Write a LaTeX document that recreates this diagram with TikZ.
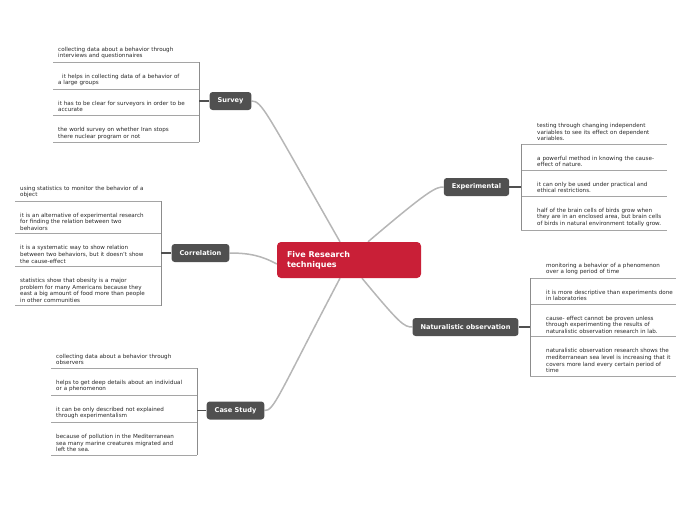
\documentclass[tikz,border=0pt]{standalone}
\usepackage{fontspec}
\setmainfont{DejaVu Sans}
\usepackage{tikz}
\usetikzlibrary{positioning,backgrounds}

\definecolor{rootred}{RGB}{201,31,55}
\definecolor{topicgray}{RGB}{80,80,80}
\definecolor{leafgray}{RGB}{165,165,165}
\definecolor{curvegray}{RGB}{182,182,182}

\tikzset{
  root/.style={fill=rootred,rounded corners=4pt,text=white,
    font=\fontsize{8}{10}\selectfont\bfseries,align=left,
    text width=124pt,inner xsep=10pt,minimum height=36pt},
  topic/.style={fill=topicgray,rounded corners=3pt,text=white,
    font=\fontsize{6.6}{8}\selectfont\bfseries,
    inner xsep=8pt,minimum height=18pt},
  leafL/.style={align=left,text width=136pt,inner xsep=5pt,inner ysep=3pt,
    text height=13pt,font=\fontsize{5.6}{6.6}\selectfont,text=black!85},
  leafR/.style={leafL,text width=130pt,inner xsep=0pt},
  leafline/.style={draw=leafgray,line width=0.6pt},
  bracket/.style={draw=black!45,line width=0.7pt},
  link/.style={draw=topicgray,line width=1.2pt},
  curve/.style={draw=curvegray,line width=1.5pt}
}

\begin{document}
\begin{tikzpicture}[x=1pt,y=-1pt]
\useasboundingbox (0,0) rectangle (697,520);

% main idea and the five branches
\node[root] (five) at (349,260) {Five Research\\techniques};
\node[topic] (survey) at (230.5,101) {Survey};
\node[topic] (corr)   at (200.5,253) {Correlation};
\node[topic] (case)   at (235.5,410.5) {Case Study};
\node[topic] (expt)   at (476.5,187) {Experimental};
\node[topic] (natobs) at (465.5,327) {Naturalistic observation};

% Survey
\node[leafL,anchor=south west] (s1) at (53,62)
  {collecting data about a behavior through\\interviews and questionnaires};
\node[leafL,below=0pt of s1] (s2)
  {\hspace*{4pt}it helps in collecting data of a behavior of\\a large groups};
\node[leafL,below=0pt of s2] (s3)
  {it has to be clear for surveyors in order to be\\accurate};
\node[leafL,below=0pt of s3] (s4)
  {the world survey on whether Iran stops\\there nuclear program or not};

% Correlation
\node[leafL,anchor=south west] (c1) at (15,201)
  {using statistics to monitor the behavior of a\\object};
\node[leafL,below=0pt of c1] (c2)
  {it is an alternative of experimental research\\for finding the relation between two\\behaviors};
\node[leafL,below=0pt of c2] (c3)
  {it is a systematic way to show relation\\between two behaviors, but it doesn't show\\the cause-effect};
\node[leafL,below=0pt of c3] (c4)
  {statistics show that obesity is a major\\problem for many Americans because they\\east a big amount of food more than people\\in other communities};

% Case Study
\node[leafL,anchor=south west] (k1) at (51,368)
  {collecting data about a behavior through\\observers};
\node[leafL,below=0pt of k1] (k2)
  {helps to get deep details about an individual\\or a phenomenon};
\node[leafL,below=0pt of k2] (k3)
  {it can be only described not explained\\through experimentalism};
\node[leafL,below=0pt of k3] (k4)
  {because of pollution in the Mediterranean\\sea many marine creatures migrated and\\left the sea.};

% Experimental
\node[leafR,anchor=south west] (e1) at (537,144)
  {testing through changing independent\\variables to see its effect on dependent\\variables.};
\node[leafR,below=0pt of e1] (e2)
  {a powerful method in knowing the cause-\\effect of nature.};
\node[leafR,below=0pt of e2] (e3)
  {it can only be used under practical and\\ethical restrictions.};
\node[leafR,below=0pt of e3] (e4)
  {half of the brain cells of birds grow when\\they are in an enclosed area, but brain cells\\of birds in natural environment totally grow.};

% Naturalistic observation
\node[leafR,anchor=south west] (n1) at (546,278)
  {monitoring a behavior of a phenomenon\\over a long period of time};
\node[leafR,below=0pt of n1] (n2)
  {it is more descriptive than experiments done\\in laboratories};
\node[leafR,below=0pt of n2] (n3)
  {cause- effect cannot be proven unless\\through experimenting the results of\\naturalistic observation research in lab.};
\node[leafR,below=0pt of n3] (n4)
  {naturalistic observation research shows the\\mediterranean sea level is increasing that it\\covers more land every certain period of\\time};

% underlines and brackets, left side
\foreach \g in {s,c,k}{
  \foreach \i in {1,2,3,4}
    \draw[leafline] (\g\i.south west) -- (\g\i.south east);
  \draw[bracket] (\g1.south east) -- (\g4.south east);
}
\draw[link] (survey.west) -- (survey.west -| s1.east);
\draw[link] (corr.west) -- (corr.west -| c1.east);
\draw[link] (case.west) -- (case.west -| k1.east);

% underlines and brackets, right side
\foreach \g in {e,n}{
  \foreach \i in {1,2,3,4}
    \draw[leafline] ([xshift=-16pt]\g\i.south west) -- (\g\i.south east);
  \draw[bracket] ([xshift=-16pt]\g1.south west) -- ([xshift=-16pt]\g4.south west);
}
\coordinate (ebar) at ([xshift=-16pt]e1.south west);
\coordinate (nbar) at ([xshift=-16pt]n1.south west);
\draw[link] (expt.east) -- (expt.east -| ebar);
\draw[link] (natobs.east) -- (natobs.east -| nbar);

% curved connectors to the main idea
\begin{pgfonlayer}{background}
\draw[curve] (survey.east) .. controls (262,101) and (266,112) .. ([xshift=-9pt]five.north);
\draw[curve] (corr.east) .. controls (250,253) and (262,256) .. ([yshift=-4pt]five.west);
\draw[curve] (case.east) .. controls (274,411) and (278,396) .. ([xshift=-9pt]five.south);
\draw[curve] (expt.west) .. controls (436,187) and (430,189) .. ([xshift=19pt]five.north);
\draw[curve] (natobs.west) .. controls (404,327) and (400,324) .. ([xshift=13pt]five.south);
\end{pgfonlayer}
\end{tikzpicture}
\end{document}
